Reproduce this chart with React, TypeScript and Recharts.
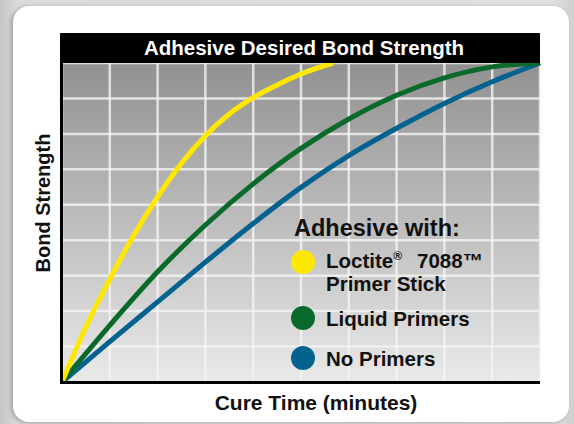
import React from "react"
import { LineChart, Line, XAxis, YAxis, CartesianGrid } from "recharts"

// cure time grid (minutes, arbitrary units) and bond strength grid
const timeTicks = [0, 1, 2, 3, 4, 5, 6, 7, 8, 9, 10]
const strengthTicks = [0, 1, 2, 3, 4, 5, 6, 7, 8, 9]

// Loctite 7088 Primer Stick
const stickTime = [0, 0.5, 1, 1.5, 2, 2.5, 3, 3.5, 4, 4.5, 5, 5.67]
const stickStrength = [0, 1.55, 2.9, 4.13, 5.22, 6.17, 6.95, 7.56, 8.02, 8.38, 8.69, 9]

// Liquid primers
const liquidTime = [0, 1, 2, 3, 4, 5, 6, 7, 8, 9, 10]
const liquidStrength = [0, 1.6, 3.11, 4.43, 5.59, 6.59, 7.42, 8.09, 8.58, 8.89, 9.0]

// No primers
const noneTime = [0, 1, 2, 3, 4, 5, 6, 7, 8, 9, 10]
const noneStrength = [0, 1.14, 2.26, 3.38, 4.47, 5.49, 6.39, 7.16, 7.86, 8.47, 9.0]

const legendItems = [
  { color: "#ffe800", lines: ["Loctite", "Primer Stick"] },
  { color: "#0a6a2c", lines: ["Liquid Primers"] },
  { color: "#04628f", lines: ["No Primers"] },
]

const toRows = (xs: number[], ys: number[]) => xs.map((t, i) => ({ t, v: ys[i] }))

const FONT = "'Liberation Sans', Arial, Helvetica, sans-serif"

export default function App() {
  return (
    <div
      style={{
        position: "absolute",
        left: 0,
        top: 0,
        width: 574,
        height: 424,
        overflow: "hidden",
        background: "linear-gradient(to right, #c4c6c4 0%, #d9dad9 3%, #e0e0e0 96%, #cfd0cf 100%)",
      }}
    >
      <div
        style={{
          position: "absolute",
          left: 13,
          top: 6,
          width: 556,
          height: 416,
          borderRadius: 16,
          background: "#fff",
          boxShadow: "-2px 1px 4px rgba(0,0,0,0.25)",
        }}
      />
      <div style={{ position: "absolute", left: 0, top: 0 }}>
        <LineChart width={574} height={424} margin={{ top: 63, right: 34, bottom: 42, left: 62 }}>
          <defs>
            <linearGradient id="plotBg" x1="0" y1="0" x2="0" y2="1">
              <stop offset="0%" stopColor="#919191" />
              <stop offset="100%" stopColor="#e8e9e8" />
            </linearGradient>
          </defs>
          <CartesianGrid
            fill="url(#plotBg)"
            fillOpacity={1}
            stroke="#f4f4f4"
            strokeOpacity={0.8}
            strokeWidth={2.5}
          />
          <XAxis dataKey="t" type="number" domain={[0, 10]} ticks={timeTicks} hide allowDuplicatedCategory={false} />
          <YAxis type="number" domain={[0, 9]} ticks={strengthTicks} hide />
          <Line data={toRows(noneTime, noneStrength)} dataKey="v" type="monotone" stroke="#04628f" strokeWidth={5} dot={false} isAnimationActive={false} />
          <Line data={toRows(liquidTime, liquidStrength)} dataKey="v" type="monotone" stroke="#0a6a2c" strokeWidth={5} dot={false} isAnimationActive={false} />
          <Line data={toRows(stickTime, stickStrength)} dataKey="v" type="monotone" stroke="#ffe800" strokeWidth={5} dot={false} isAnimationActive={false} />
        </LineChart>
      </div>
      <svg
        width={574}
        height={424}
        style={{ position: "absolute", left: 0, top: 0, pointerEvents: "none", fontFamily: FONT, fontWeight: "bold" }}
      >
        <rect x={60} y={33} width={480} height={30} fill="#000" />
        <rect x={60} y={63} width={3} height={321} fill="#000" />
        <rect x={60} y={381} width={480} height={3} fill="#000" />
        <text x={304} y={55} fill="#fff" fontSize={20.5} textAnchor="middle">
          Adhesive Desired Bond Strength
        </text>
        <text transform="translate(50,203) rotate(-90)" fill="#111" fontSize={20} textAnchor="middle">
          Bond Strength
        </text>
        <text x={316} y={410} fill="#111" fontSize={21} textAnchor="middle">
          Cure Time (minutes)
        </text>
        <text x={294} y={236} fill="#111" fontSize={23.5}>
          Adhesive with:
        </text>
        <circle cx={303} cy={262} r={12} fill={legendItems[0].color} />
        <circle cx={303} cy={318} r={12} fill={legendItems[1].color} />
        <circle cx={303} cy={358} r={12} fill={legendItems[2].color} />
        <text x={326} y={268} fill="#111" fontSize={20.5}>
          {legendItems[0].lines[0]}
          <tspan fontSize={12} dy={-8}>®</tspan>
          <tspan x={417} dy={8}>7088™</tspan>
        </text>
        <text x={326} y={291} fill="#111" fontSize={20.5}>
          {legendItems[0].lines[1]}
        </text>
        <text x={326} y={326} fill="#111" fontSize={20.5}>
          {legendItems[1].lines[0]}
        </text>
        <text x={326} y={366} fill="#111" fontSize={20.5}>
          {legendItems[2].lines[0]}
        </text>
      </svg>
    </div>
  )
}
